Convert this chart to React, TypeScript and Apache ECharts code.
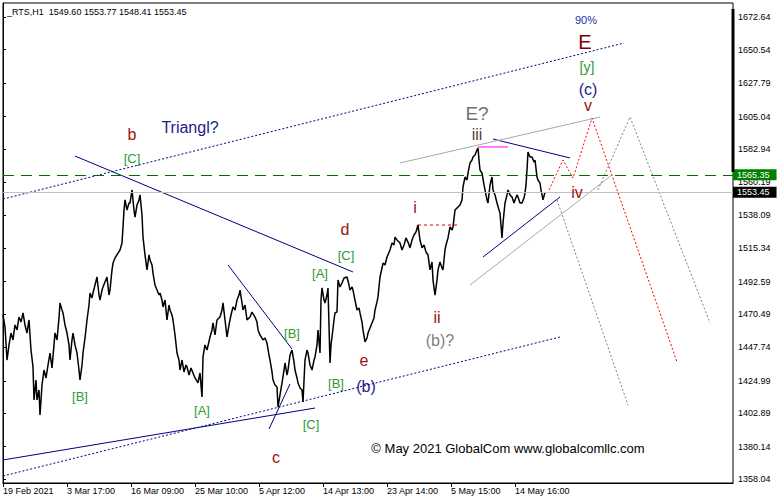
import React, { useEffect, useRef } from 'react';
import * as echarts from 'echarts';

// H1 closes of _RTS: [bar index, price]
const priceSeries: [number, number][] = [
  [0,1469.8],[2,1461.6],[4,1439.1],[6,1449.4],[8,1457.5],[10,1452.8],[12,1463.0],[14,1459.6],[16,1468.4],[18,1465.0],[20,1471.2],[22,1463.0],[24,1457.5],[26,1466.4],[28,1445.9],[30,1434.4],[31,1411.9],[33,1425.5],[34,1411.9],[36,1418.7],[37,1401.7],[39,1422.1],[41,1432.3],[43,1426.9],[45,1435.7],[47,1443.9],[49,1433.7],[51,1449.4],[52,1457.5],[54,1452.8],[56,1467.8],[57,1478.0],[59,1473.2],[60,1471.2],[62,1463.0],[64,1457.5],[66,1449.4],[67,1439.1],[69,1452.8],[70,1457.5],[72,1449.4],[74,1443.9],[76,1432.3],[77,1425.5],[79,1435.7],[80,1443.9],[82,1454.1],[84,1466.4],[86,1476.6],[87,1484.8],[89,1481.4],[90,1484.8],[92,1490.2],[94,1495.7],[96,1483.4],[97,1480.0],[99,1486.8],[100,1488.9],[102,1492.3],[104,1495.7],[106,1483.4],[107,1486.8],[109,1500.5],[110,1505.2],[112,1508.6],[115,1512.0],[117,1514.1],[119,1518.9],[120,1529.8],[121,1541.3],[122,1548.2],[124,1541.3],[126,1546.1],[127,1546.1],[129,1555.0],[131,1541.3],[132,1536.5],[134,1544.7],[136,1548.2],[137,1551.6],[139,1537.9],[140,1522.9],[142,1510.7],[144,1500.5],[146,1510.7],[147,1507.3],[149,1503.9],[150,1498.4],[152,1490.2],[154,1486.8],[156,1483.4],[157,1484.8],[159,1480.0],[160,1475.3],[162,1480.0],[164,1466.4],[166,1476.6],[167,1473.2],[169,1469.8],[170,1466.4],[172,1456.2],[174,1443.9],[176,1439.1],[177,1432.3],[179,1439.1],[181,1431.0],[183,1435.7],[184,1434.4],[186,1428.9],[188,1433.7],[190,1430.3],[192,1426.9],[195,1423.5],[197,1430.3],[199,1413.9],[200,1441.2],[202,1449.4],[204,1445.9],[207,1454.8],[209,1459.6],[210,1464.4],[212,1456.2],[214,1466.4],[217,1468.4],[219,1473.2],[220,1478.0],[222,1466.4],[224,1454.8],[226,1463.0],[228,1469.8],[230,1475.3],[232,1473.2],[234,1480.0],[236,1483.4],[237,1486.8],[239,1478.0],[240,1473.2],[242,1476.6],[244,1466.4],[247,1468.4],[249,1471.8],[252,1468.4],[254,1465.0],[255,1459.6],[257,1456.2],[260,1452.8],[262,1454.1],[264,1450.7],[266,1442.5],[267,1439.1],[269,1431.0],[270,1425.5],[272,1422.1],[274,1420.7],[275,1407.1],[277,1415.3],[279,1423.5],[281,1432.3],[282,1437.1],[284,1428.9],[285,1432.3],[287,1442.5],[289,1445.9],[291,1437.8],[292,1432.3],[294,1426.9],[295,1423.5],[297,1420.0],[299,1418.7],[300,1410.5],[302,1439.1],[304,1445.9],[305,1443.9],[307,1435.7],[309,1432.3],[311,1439.1],[312,1441.2],[314,1449.4],[315,1459.6],[317,1443.9],[318,1480.0],[319,1488.2],[321,1480.0],[322,1478.0],[324,1483.4],[325,1488.2],[327,1437.1],[328,1449.4],[329,1454.8],[331,1466.4],[332,1471.2],[334,1471.8],[335,1493.6],[337,1488.9],[339,1491.6],[341,1495.0],[344,1495.7],[346,1490.2],[347,1486.8],[349,1488.9],[350,1486.8],[352,1480.0],[354,1473.2],[356,1474.6],[357,1471.2],[359,1465.0],[360,1459.6],[362,1451.4],[364,1454.1],[365,1457.5],[367,1460.9],[369,1464.4],[371,1467.8],[372,1473.2],[374,1478.7],[375,1482.1],[377,1495.7],[379,1501.8],[380,1505.2],[382,1503.9],[384,1509.3],[387,1514.1],[389,1518.9],[391,1517.5],[392,1522.9],[394,1520.9],[397,1518.9],[399,1514.1],[401,1517.5],[403,1522.3],[405,1519.5],[407,1515.5],[409,1520.9],[411,1524.3],[413,1526.4],[415,1531.1],[417,1520.9],[419,1515.5],[421,1517.5],[423,1512.7],[425,1510.7],[427,1500.5],[429,1505.9],[430,1493.6],[432,1483.4],[434,1493.6],[435,1500.5],[437,1505.9],[439,1501.8],[440,1500.5],[442,1514.1],[443,1517.5],[445,1522.3],[447,1529.8],[449,1527.7],[450,1529.8],[452,1541.3],[455,1543.4],[457,1544.7],[459,1548.2],[460,1557.0],[462,1563.8],[464,1561.8],[465,1566.5],[467,1573.4],[469,1575.4],[470,1577.5],[472,1578.8],[474,1582.2],[475,1583.6],[476,1575.4],[477,1568.6],[479,1566.5],[481,1558.4],[482,1555.0],[484,1548.2],[485,1546.1],[487,1558.4],[489,1563.8],[490,1555.0],[492,1551.6],[494,1546.1],[496,1541.3],[497,1539.3],[499,1522.3],[500,1532.5],[502,1546.1],[504,1551.6],[505,1555.0],[507,1551.6],[509,1550.2],[511,1546.1],[512,1548.2],[514,1551.6],[515,1550.2],[517,1546.1],[519,1546.1],[521,1549.5],[522,1552.9],[523,1558.4],[524,1568.6],[525,1580.9],[527,1577.5],[529,1577.5],[531,1574.0],[532,1575.4],[534,1563.8],[535,1561.8],[537,1559.7],[538,1555.0],[539,1551.6],[540,1548.2],[542,1553.45],
];

const headerText = '_RTS,H1  1549.60 1553.77 1548.41 1553.45';
const lastClose = 1553.45;
const levelLine = 1565.35;

const priceTicks = [1358.04, 1380.14, 1402.89, 1424.99, 1447.74, 1470.49, 1492.59, 1515.34, 1538.09, 1560.19, 1582.94, 1605.04, 1627.79, 1650.54, 1672.64];
const timeTickPos = [0, 64, 128, 192, 256, 320, 384, 448, 512];
const timeTickLabels = ['19 Feb 2021', '3 Mar 17:00', '16 Mar 09:00', '25 Mar 10:00', '5 Apr 12:00', '14 Apr 13:00', '23 Apr 14:00', '5 May 15:00', '14 May 16:00'];

// trend lines / projections in [bar, price]
const channelUpper: [number, number][] = [[0, 1548.8], [621, 1655.1]];
const channelLower: [number, number][] = [[0, 1360.1], [557, 1454.8]];
const baseLine: [number, number][] = [[0, 1371.0], [312, 1406.4]];
const triangleTop: [number, number][] = [[72, 1578.1], [350, 1499.1]];
const wedgeTop: [number, number][] = [[225, 1503.9], [289, 1446.6]];
const wedgeCross: [number, number][] = [[266, 1392.1], [287, 1422.8]];
const smallTop: [number, number][] = [[490, 1589.7], [567, 1576.8]];
const smallBottom: [number, number][] = [[480, 1509.3], [557, 1550.2]];
const greyUpper: [number, number][] = [[397, 1573.4], [597, 1604.7]];
const greyLower: [number, number][] = [[467, 1490.2], [609, 1565.2]];
const greyPathA: [number, number][] = [[554, 1548.2], [625, 1408.5]];
const greyPathB: [number, number][] = [[595, 1555.0], [627, 1604.7], [707, 1464.4]];
const redPath: [number, number][] = [[546, 1555.0], [560, 1575.4], [570, 1563.1], [589, 1604.0], [674, 1437.8]];
const waveILevel: [number, number][] = [[415, 1531.1], [455, 1531.1]];
const waveIIILevel: [number, number][] = [[475, 1584.3], [505, 1584.3]];

const RED = '#9a1212';
const GREEN = '#2f9a2f';
const NAVY = '#1c1c8c';
const GREY = '#808080';
const FONT = '"Liberation Sans", Arial, sans-serif';

const waveLabels = [
  { t: 'b', x: 132, y: 134, c: RED, s: 16 },
  { t: '[C]', x: 132, y: 158, c: GREEN, s: 13 },
  { t: 'Triangl?', x: 190, y: 127, c: NAVY, s: 16 },
  { t: 'd', x: 345, y: 229, c: RED, s: 16 },
  { t: '[C]', x: 346, y: 255, c: GREEN, s: 13 },
  { t: '[A]', x: 320, y: 273, c: GREEN, s: 13 },
  { t: '[B]', x: 292, y: 333, c: GREEN, s: 13 },
  { t: 'e', x: 364, y: 360, c: RED, s: 16 },
  { t: '[B]', x: 336, y: 383, c: GREEN, s: 13 },
  { t: '(b)', x: 366, y: 386, c: NAVY, s: 16 },
  { t: '[C]', x: 311, y: 424, c: GREEN, s: 13 },
  { t: 'c', x: 276, y: 457, c: RED, s: 16 },
  { t: '[A]', x: 202, y: 410, c: GREEN, s: 13 },
  { t: '[B]', x: 80, y: 396, c: GREEN, s: 13 },
  { t: 'i', x: 415, y: 207, c: RED, s: 16 },
  { t: 'ii', x: 437, y: 317, c: RED, s: 16 },
  { t: '(b)?', x: 440, y: 340, c: GREY, s: 16 },
  { t: 'E?', x: 477, y: 113, c: '#707070', s: 19 },
  { t: 'iii', x: 477, y: 134, c: '#5a4040', s: 16 },
  { t: 'iv', x: 577, y: 192, c: RED, s: 16 },
  { t: 'v', x: 588, y: 105, c: RED, s: 16 },
  { t: '(c)', x: 588, y: 89, c: NAVY, s: 16 },
  { t: '[y]', x: 587, y: 67, c: GREEN, s: 14 },
  { t: 'E', x: 585, y: 42, c: '#800000', s: 20 },
  { t: '90%', x: 586, y: 20, c: '#2233aa', s: 11 },
  { t: '© May 2021 GlobalCom www.globalcomllc.com', x: 508, y: 448, c: '#000', s: 13 },
];

function trend(data: [number, number][], color: string, type: any, width = 1) {
  return {
    type: 'line',
    data,
    symbol: 'none',
    silent: true,
    clip: true,
    lineStyle: { color, width, type },
    z: 3,
  };
}

export default function App() {
  const ref = useRef<HTMLDivElement>(null);
  useEffect(() => {
    const chart = echarts.init(ref.current!, null, { renderer: 'svg' });
    const option: any = {
      animation: false,
      backgroundColor: '#fff',
      grid: { left: 3, top: 3, right: 45, bottom: 20, show: true, borderColor: '#000', borderWidth: 1 },
      xAxis: {
        type: 'value',
        min: 0,
        max: 730,
        splitLine: { show: false },
        axisLine: { show: true, lineStyle: { color: '#000', width: 1 } },
        axisTick: { show: true, length: 4, lineStyle: { color: '#000' }, customValues: timeTickPos },
        axisLabel: {
          customValues: timeTickPos,
          align: 'left',
          margin: 3,
          color: '#000',
          fontSize: 9,
          fontFamily: FONT,
          formatter: (v: number) => {
            const i = timeTickPos.indexOf(v);
            return i >= 0 ? timeTickLabels[i] : '';
          },
        },
      },
      yAxis: {
        type: 'value',
        position: 'right',
        min: 1355.32,
        max: 1682.39,
        splitLine: { show: false },
        axisLine: { show: true, lineStyle: { color: '#000', width: 1 } },
        axisTick: { show: true, length: 3, lineStyle: { color: '#000' }, customValues: priceTicks },
        axisLabel: {
          customValues: priceTicks,
          margin: 5,
          color: '#000',
          fontSize: 9,
          fontFamily: FONT,
          formatter: (v: number) => v.toFixed(2),
        },
      },
      graphic: [
        { type: 'rect', shape: { x: 731.5, y: 9, width: 3, height: 163 }, style: { fill: '#000' }, z: 100 },
        { type: 'text', x: 7, y: 12, style: { text: headerText, fill: '#000', fontSize: 9, fontFamily: FONT, textAlign: 'left', textVerticalAlign: 'middle' }, z: 100 },
        ...waveLabels.map((l) => ({
          type: 'text',
          x: l.x,
          y: l.y,
          z: 100,
          style: { text: l.t, fill: l.c, fontSize: l.s, fontFamily: FONT, textAlign: 'center', textVerticalAlign: 'middle' },
        })),
      ],
      series: [
        trend(channelUpper, '#000080', [2, 2]),
        trend(channelLower, '#000080', [2, 2]),
        trend(baseLine, '#000080', 'solid'),
        trend(triangleTop, '#000080', 'solid'),
        trend(wedgeTop, '#000080', 'solid'),
        trend(wedgeCross, '#000080', 'solid'),
        trend(smallTop, '#000080', 'solid'),
        trend(smallBottom, '#000080', 'solid'),
        trend(greyUpper, '#a8a8a8', 'solid'),
        trend(greyLower, '#a8a8a8', 'solid'),
        trend(greyPathA, '#808080', [2, 2]),
        trend(greyPathB, '#808080', [2, 2]),
        trend(redPath, '#ff0000', [2, 2]),
        trend(waveILevel, '#e00000', [3, 3]),
        trend(waveIIILevel, '#ff00ff', 'solid'),
        {
          type: 'line',
          data: priceSeries,
          symbol: 'none',
          clip: false,
          silent: true,
          lineStyle: { color: '#000', width: 1.5 },
          z: 4,
          markLine: {
            silent: true,
            symbol: ['none', 'none'],
            animation: false,
            data: [
              {
                yAxis: levelLine,
                lineStyle: { color: '#006e00', type: [11, 7], width: 1 },
                label: {
                  show: true, position: 'end', distance: 0, formatter: levelLine.toFixed(2),
                  backgroundColor: '#008000', color: '#fff', fontSize: 9, fontFamily: FONT, padding: [1, 7, 1, 4],
                },
              },
              {
                yAxis: lastClose,
                lineStyle: { color: '#c0c0c0', type: 'solid', width: 1 },
                label: {
                  show: true, position: 'end', distance: 0, formatter: lastClose.toFixed(2),
                  backgroundColor: '#000', color: '#fff', fontSize: 9, fontFamily: FONT, padding: [1, 7, 1, 4],
                },
              },
            ],
          },
        },
      ],
    };
    chart.setOption(option);
    return () => chart.dispose();
  }, []);
  return <div ref={ref} style={{ position: 'fixed', left: 0, top: 0, width: 778, height: 503, background: '#fff' }} />;
}
